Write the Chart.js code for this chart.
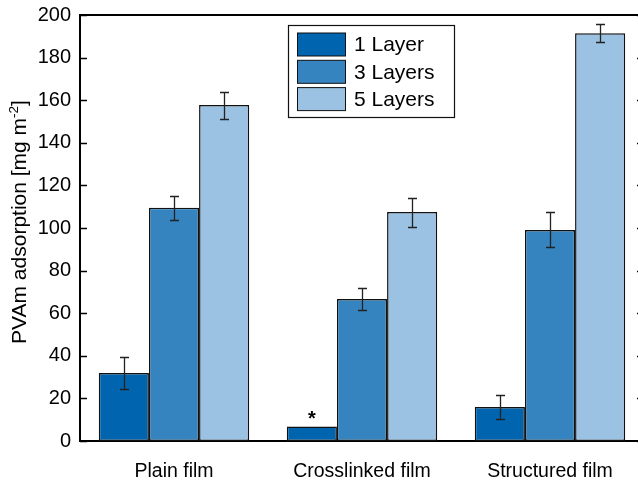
<!DOCTYPE html>
<html>
<head>
<meta charset="utf-8">
<script src="https://cdn.jsdelivr.net/npm/chart.js@4/dist/chart.umd.min.js"></script>
<style>
  html, body { margin: 0; padding: 0; background: #fff; overflow: hidden; }
  #wrap { width: 660px; height: 486px; }
</style>
</head>
<body>
<div id="wrap"><canvas id="c" width="660" height="486"></canvas></div>
<script>
// Adsorbed PVAm per film type and number of layers (mg m^-2), with standard deviations
const categories = ['Plain film', 'Crosslinked film', 'Structured film'];
const seriesNames = ['1 Layer', '3 Layers', '5 Layers'];
const layer1 = [31.9, 6.8, 16.0];
const layer3 = [109.5, 66.7, 99.1];
const layer5 = [157.7, 107.5, 191.4];
const layer1Err = [7.5, null, 5.6];
const layer3Err = [5.6, 5.1, 8.2];
const layer5Err = [6.3, 6.8, 4.2];
const layer1Notes = ['', '*', ''];
const yTickLabels = [0, 20, 40, 60, 80, 100, 120, 140, 160, 180, 200];
const yTitle = 'PVAm adsorption [mg m';
const yTitleSup = '-2';
const yTitleEnd = ']';

const FONT = '"Liberation Sans", Arial, Helvetica, sans-serif';
const colors = ['#0064af', '#3584c0', '#9bc2e2'];
const errors = [layer1Err, layer3Err, layer5Err];
const notes = [layer1Notes, null, null];

// Error bars and significance marks drawn over the bars
const errorBars = {
  id: 'errorBars',
  afterDatasetsDraw(chart) {
    const ctx = chart.ctx;
    const y = chart.scales.y;
    ctx.save();
    chart.data.datasets.forEach((ds, di) => {
      const meta = chart.getDatasetMeta(di);
      const errs = errors[di];
      meta.data.forEach((bar, i) => {
        const e = errs[i];
        if (e == null) return;
        const v = ds.data[i];
        const yt = Math.round(y.getPixelForValue(v + e)) + 0.5;
        const yb = Math.round(y.getPixelForValue(v - e)) + 0.5;
        const x = Math.round(bar.x) + 0.5;
        ctx.strokeStyle = '#222';
        ctx.lineWidth = 1.3;
        ctx.beginPath();
        ctx.moveTo(x, yt); ctx.lineTo(x, yb);
        ctx.moveTo(x - 4.5, yt); ctx.lineTo(x + 4.5, yt);
        ctx.moveTo(x - 4.5, yb); ctx.lineTo(x + 4.5, yb);
        ctx.stroke();
      });
      const n = notes[di];
      if (n) {
        meta.data.forEach((bar, i) => {
          if (!n[i]) return;
          ctx.fillStyle = '#000';
          ctx.font = 'bold 20px ' + FONT;
          ctx.textAlign = 'center';
          ctx.textBaseline = 'alphabetic';
          ctx.fillText(n[i], bar.x, bar.y - 2);
        });
      }
    });
    ctx.restore();
  }
};

// Closed frame with inward ticks, rotated axis title and boxed legend
const frame = {
  id: 'frame',
  afterDraw(chart) {
    const ctx = chart.ctx;
    const a = chart.chartArea;
    const y = chart.scales.y;
    ctx.save();
    ctx.strokeStyle = '#000';
    ctx.lineWidth = 2;
    ctx.beginPath();
    ctx.moveTo(a.left - 1, a.top); ctx.lineTo(a.right + 1, a.top);
    ctx.moveTo(a.right, a.top); ctx.lineTo(a.right, a.bottom);
    ctx.stroke();

    ctx.lineWidth = 1.5;
    y.ticks.forEach(t => {
      const py = Math.round(y.getPixelForValue(t.value)) + 0.5;
      const len = yTickLabels.includes(t.value) ? 7 : 4;
      ctx.beginPath();
      ctx.moveTo(a.left, py); ctx.lineTo(a.left + len, py);
      ctx.moveTo(a.right, py); ctx.lineTo(a.right - len, py);
      ctx.stroke();
    });

    // y-axis title with superscript
    ctx.fillStyle = '#000';
    ctx.textAlign = 'left';
    ctx.textBaseline = 'alphabetic';
    const mainFont = '21px ' + FONT, supFont = '13.5px ' + FONT;
    ctx.font = mainFont;
    const w1 = ctx.measureText(yTitle).width;
    const w3 = ctx.measureText(yTitleEnd).width;
    ctx.font = supFont;
    const w2 = ctx.measureText(yTitleSup).width;
    ctx.save();
    ctx.translate(26, (a.top + a.bottom) / 2 - 6);
    ctx.rotate(-Math.PI / 2);
    let x = -(w1 + w2 + w3) / 2;
    ctx.font = mainFont; ctx.fillText(yTitle, x, 0); x += w1;
    ctx.font = supFont; ctx.fillText(yTitleSup, x, -8.5); x += w2;
    ctx.font = mainFont; ctx.fillText(yTitleEnd, x, 0);
    ctx.restore();

    // legend
    const lx = a.left + 208, ly = a.top + 10, lw = 166, lh = 92;
    ctx.lineWidth = 1.2;
    ctx.strokeStyle = '#111';
    ctx.fillStyle = '#fff';
    ctx.fillRect(lx, ly, lw, lh);
    ctx.strokeRect(lx + 0.5, ly + 0.5, lw, lh);
    chart.data.datasets.forEach((ds, i) => {
      const sy = ly + 8 + i * 27.3;
      ctx.fillStyle = ds.backgroundColor;
      ctx.fillRect(lx + 9.5, sy, 48, 23);
      ctx.lineWidth = 1;
      ctx.strokeStyle = '#111';
      ctx.strokeRect(lx + 9.5, sy, 48, 23);
      ctx.fillStyle = '#000';
      ctx.font = '21px ' + FONT;
      ctx.textBaseline = 'middle';
      ctx.fillText(ds.label, lx + 66, sy + 12.5);
    });
    ctx.restore();
  }
};

const seriesData = [layer1, layer3, layer5];

new Chart(document.getElementById('c'), {
  type: 'bar',
  data: {
    labels: categories,
    datasets: seriesNames.map((name, i) => ({
      label: name,
      data: seriesData[i],
      backgroundColor: colors[i],
      borderColor: '#111',
      borderWidth: 1.5,
      borderSkipped: false,
      categoryPercentage: 0.8,
      barPercentage: 1.0
    }))
  },
  options: {
    responsive: false,
    animation: false,
    devicePixelRatio: 1,
    layout: { padding: { top: 15, right: 16, bottom: 0, left: 0 } },
    plugins: {
      legend: { display: false },
      tooltip: { enabled: false }
    },
    scales: {
      x: {
        grid: { display: false, drawTicks: false },
        border: { display: true, color: '#000', width: 2 },
        ticks: { color: '#000', font: { family: FONT, size: 19.5 }, padding: 19, maxRotation: 0 },
        afterFit(s) { s.height = 45; s.paddingLeft = 0; s.paddingRight = 0; }
      },
      y: {
        min: 0,
        max: 200,
        grid: { display: false, drawTicks: false },
        border: { display: true, color: '#000', width: 2 },
        ticks: {
          stepSize: 10,
          color: '#000',
          padding: 9,
          font: { family: FONT, size: 20 },
          callback: v => (yTickLabels.includes(v) ? String(v) : '')
        },
        afterFit(s) { s.width = 80; s.paddingTop = 0; s.paddingBottom = 0; }
      }
    }
  },
  plugins: [errorBars, frame]
});
</script>
</body>
</html>
